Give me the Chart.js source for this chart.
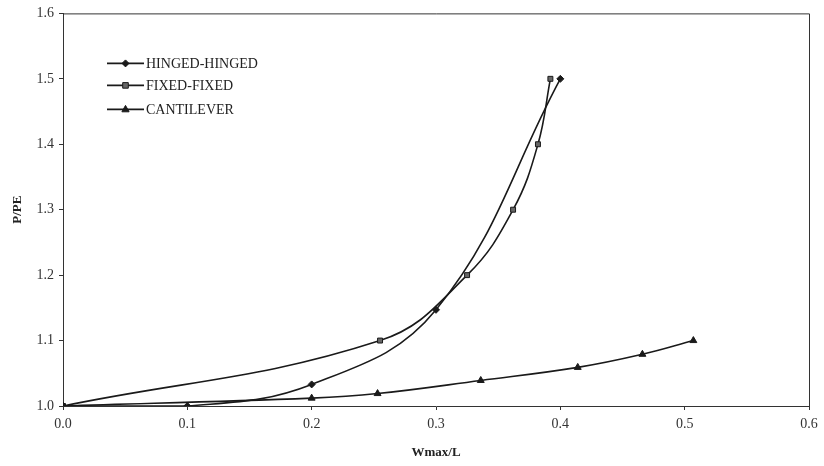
<!DOCTYPE html>
<html><head><meta charset="utf-8">
<script src="https://cdn.jsdelivr.net/npm/chart.js@4.4.1/dist/chart.umd.min.js"></script>
<style>html,body{margin:0;padding:0;background:#fff;}#wrap{width:824px;height:466px;}</style>
</head><body><div id="wrap"><canvas id="c" width="824" height="466"></canvas></div>
<script>
const seriesNames = ['HINGED-HINGED', 'FIXED-FIXED', 'CANTILEVER'];
const hingedX = [0, 0.1, 0.2, 0.3, 0.4];
const hingedY = [1.0, 1.0, 1.033, 1.147, 1.50];
const fixedX = [0, 0.255, 0.325, 0.362, 0.382, 0.392];
const fixedY = [1.0, 1.10, 1.20, 1.30, 1.40, 1.50];
const cantX = [0, 0.2, 0.253, 0.336, 0.414, 0.466, 0.507];
const cantY = [1.0, 1.012, 1.019, 1.039, 1.059, 1.079, 1.10];
const xTickValues = [0, 0.1, 0.2, 0.3, 0.4, 0.5, 0.6];
const yTickValues = [1.0, 1.1, 1.2, 1.3, 1.4, 1.5, 1.6];
const xTitle = 'Wmax/L';
const yTitle = 'P/PE';

const FONT = "'Liberation Serif', 'Times New Roman', serif";
const INK = '#1a1a1a';
const pts = (xs, ys) => xs.map((x, i) => ({x: x, y: ys[i]}));

function drawMarker(ctx, style, x, y, r, fill) {
  ctx.save();
  ctx.fillStyle = fill; ctx.strokeStyle = INK; ctx.lineWidth = 1;
  ctx.beginPath();
  if (style === 'rectRot') {
    ctx.moveTo(x, y - r); ctx.lineTo(x + r, y); ctx.lineTo(x, y + r); ctx.lineTo(x - r, y);
  } else if (style === 'rect') {
    ctx.rect(x - r * 0.8, y - r * 0.8, r * 1.6, r * 1.6);
  } else {
    ctx.moveTo(x, y - r); ctx.lineTo(x + r * 0.9, y + r * 0.6); ctx.lineTo(x - r * 0.9, y + r * 0.6);
  }
  ctx.closePath(); ctx.fill(); ctx.stroke();
  ctx.restore();
}

const legendPlugin = {
  id: 'insideLegend',
  afterDatasetsDraw(chart) {
    const ctx = chart.ctx, a = chart.chartArea;
    const x0 = a.left + 44;
    const rows = [a.top + 50, a.top + 72, a.top + 96];
    chart.data.datasets.forEach((ds, i) => {
      const y = rows[i];
      ctx.save();
      ctx.strokeStyle = INK; ctx.lineWidth = 1.6;
      ctx.beginPath(); ctx.moveTo(x0, y); ctx.lineTo(x0 + 37, y); ctx.stroke();
      drawMarker(ctx, ds.pointStyle, x0 + 18.5, y, ds.pointRadius, ds.pointBackgroundColor);
      ctx.fillStyle = '#222'; ctx.font = '14px ' + FONT;
      ctx.textBaseline = 'middle'; ctx.textAlign = 'left';
      ctx.fillText(ds.label, x0 + 39, y + 1);
      ctx.restore();
    });
  }
};

const framePlugin = {
  id: 'frame',
  afterDraw(chart) {
    const ctx = chart.ctx, a = chart.chartArea;
    ctx.save();
    ctx.strokeStyle = '#333'; ctx.lineWidth = 1;
    ctx.beginPath();
    ctx.moveTo(a.left, a.top + 0.5); ctx.lineTo(a.right + 0.5, a.top + 0.5); ctx.lineTo(a.right + 0.5, a.bottom);
    ctx.stroke();
    ctx.restore();
  }
};

const mk = (label, data, style, r, fill) => ({
  label: label, data: data, borderColor: INK, borderWidth: 1.6,
  pointStyle: style, pointRadius: r, pointBackgroundColor: fill, pointBorderColor: INK,
  pointBorderWidth: 1, tension: 0.4, fill: false, showLine: true
});

new Chart(document.getElementById('c'), {
  type: 'scatter',
  data: {
    datasets: [
      mk(seriesNames[0], pts(hingedX, hingedY), 'rectRot', 3.5, INK),
      mk(seriesNames[1], pts(fixedX, fixedY), 'rect', 3.5, '#666'),
      mk(seriesNames[2], pts(cantX, cantY), 'triangle', 4, INK)
    ]
  },
  options: {
    responsive: false, animation: false, devicePixelRatio: 1,
    layout: {padding: {top: 11, right: 15, left: 0, bottom: 0}},
    plugins: {legend: {display: false}, tooltip: {enabled: false}},
    scales: {
      x: {
        type: 'linear', min: 0, max: 0.6,
        afterBuildTicks: s => { s.ticks = xTickValues.map(v => ({value: v})); },
        afterFit: s => { s.height = 60; },
        ticks: {color: '#333', font: {family: FONT, size: 14}, padding: 6,
                callback: v => Number(v).toFixed(1)},
        grid: {display: true, drawOnChartArea: false, drawTicks: true, tickLength: 4, color: '#333'},
        border: {display: true, color: '#333', width: 1},
        title: {display: true, text: xTitle, color: '#222',
                font: {family: FONT, size: 13, weight: 'bold'}, padding: {top: 0, bottom: 6}}
      },
      y: {
        type: 'linear', min: 1.0, max: 1.6,
        afterBuildTicks: s => { s.ticks = yTickValues.map(v => ({value: v})); },
        afterFit: s => { s.width = 63; },
        ticks: {color: '#333', font: {family: FONT, size: 14}, padding: 5,
                callback: v => Number(v).toFixed(1)},
        grid: {display: true, drawOnChartArea: false, drawTicks: true, tickLength: 4, color: '#333'},
        border: {display: true, color: '#333', width: 1},
        title: {display: true, text: yTitle, color: '#222',
                font: {family: FONT, size: 13, weight: 'bold'}, padding: {top: 10, bottom: 0}}
      }
    }
  },
  plugins: [legendPlugin, framePlugin]
});
</script></body></html>
